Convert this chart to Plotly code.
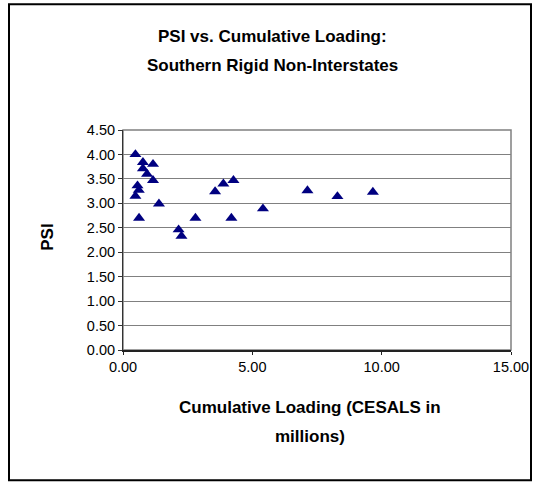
import plotly.graph_objects as go

loading = [0.48, 0.77, 1.16, 0.77, 0.93, 1.16, 0.56, 0.61, 0.48, 1.39, 0.62,
           2.15, 2.26, 2.80, 3.56, 3.88, 4.27, 4.19, 5.41, 7.13, 8.29, 9.66]
psi = [4.00, 3.84, 3.80, 3.71, 3.60, 3.47, 3.36, 3.27, 3.15, 2.99, 2.70,
       2.46, 2.33, 2.70, 3.24, 3.40, 3.47, 2.70, 2.89, 3.26, 3.14, 3.23]
y_ticks = [0, 0.5, 1, 1.5, 2, 2.5, 3, 3.5, 4, 4.5]
x_ticks = [0, 5, 10, 15]

W, H = 542, 483
L, R, T, B = 123, W - 511, 130, H - 350.5
pw, ph = W - L - R, H - T - B

def px(x):
    return (x - L) / pw

def py(y):
    return (H - B - y) / ph

FONT = "Liberation Sans, Arial, sans-serif"

fig = go.Figure()
fig.add_trace(go.Scatter(
    x=loading, y=psi, mode="markers",
    marker=dict(symbol="triangle-up", size=10.5, color="#000080", line=dict(width=0)),
    showlegend=False, cliponaxis=False, hoverinfo="skip",
))

def label(text, x, y, size=17, angle=0):
    return dict(text=f"<b>{text}</b>", xref="paper", yref="paper", x=px(x), y=py(y),
                xanchor="center", yanchor="middle", showarrow=False, textangle=angle,
                font=dict(size=size, family=FONT, color="black"))

fig.update_layout(
    width=W, height=H,
    margin=dict(l=L, r=R, t=T, b=B, pad=0),
    paper_bgcolor="white", plot_bgcolor="white",
    font=dict(family=FONT, color="black"),
    xaxis=dict(range=[0, 15], tickvals=x_ticks, ticktext=[f"{v:.2f}" for v in x_ticks],
               showgrid=False, zeroline=False, showline=True, linecolor="#222222", linewidth=1.5,
               ticks="outside", ticklen=3, tickcolor="#222222", tickfont=dict(size=14.5)),
    yaxis=dict(range=[0, 4.5], tickvals=y_ticks, ticktext=[f"{v:.2f}" for v in y_ticks],
               showgrid=True, gridcolor="#808080", gridwidth=1, zeroline=False,
               showline=True, linecolor="#333333", linewidth=1,
               ticks="outside", ticklen=4, tickcolor="#333333", tickfont=dict(size=14.5)),
    shapes=[
        dict(type="rect", xref="paper", yref="paper", x0=0, x1=1, y0=0, y1=1,
             line=dict(color="#808080", width=1.5), layer="below"),
        dict(type="rect", xref="paper", yref="paper",
             x0=px(9), x1=px(531), y0=py(481), y1=py(4),
             line=dict(color="black", width=2)),
    ],
    annotations=[
        label("PSI vs. Cumulative Loading:", 272, 36),
        label("Southern Rigid Non-Interstates", 272, 65),
        label("Cumulative Loading (CESALS in", 310, 408),
        label("millions)", 310, 437),
        label("PSI", 48, 238, angle=-90),
    ],
)

fig.write_html("out.html", config={"displayModeBar": False},
               post_script="document.body.style.margin='0';")
